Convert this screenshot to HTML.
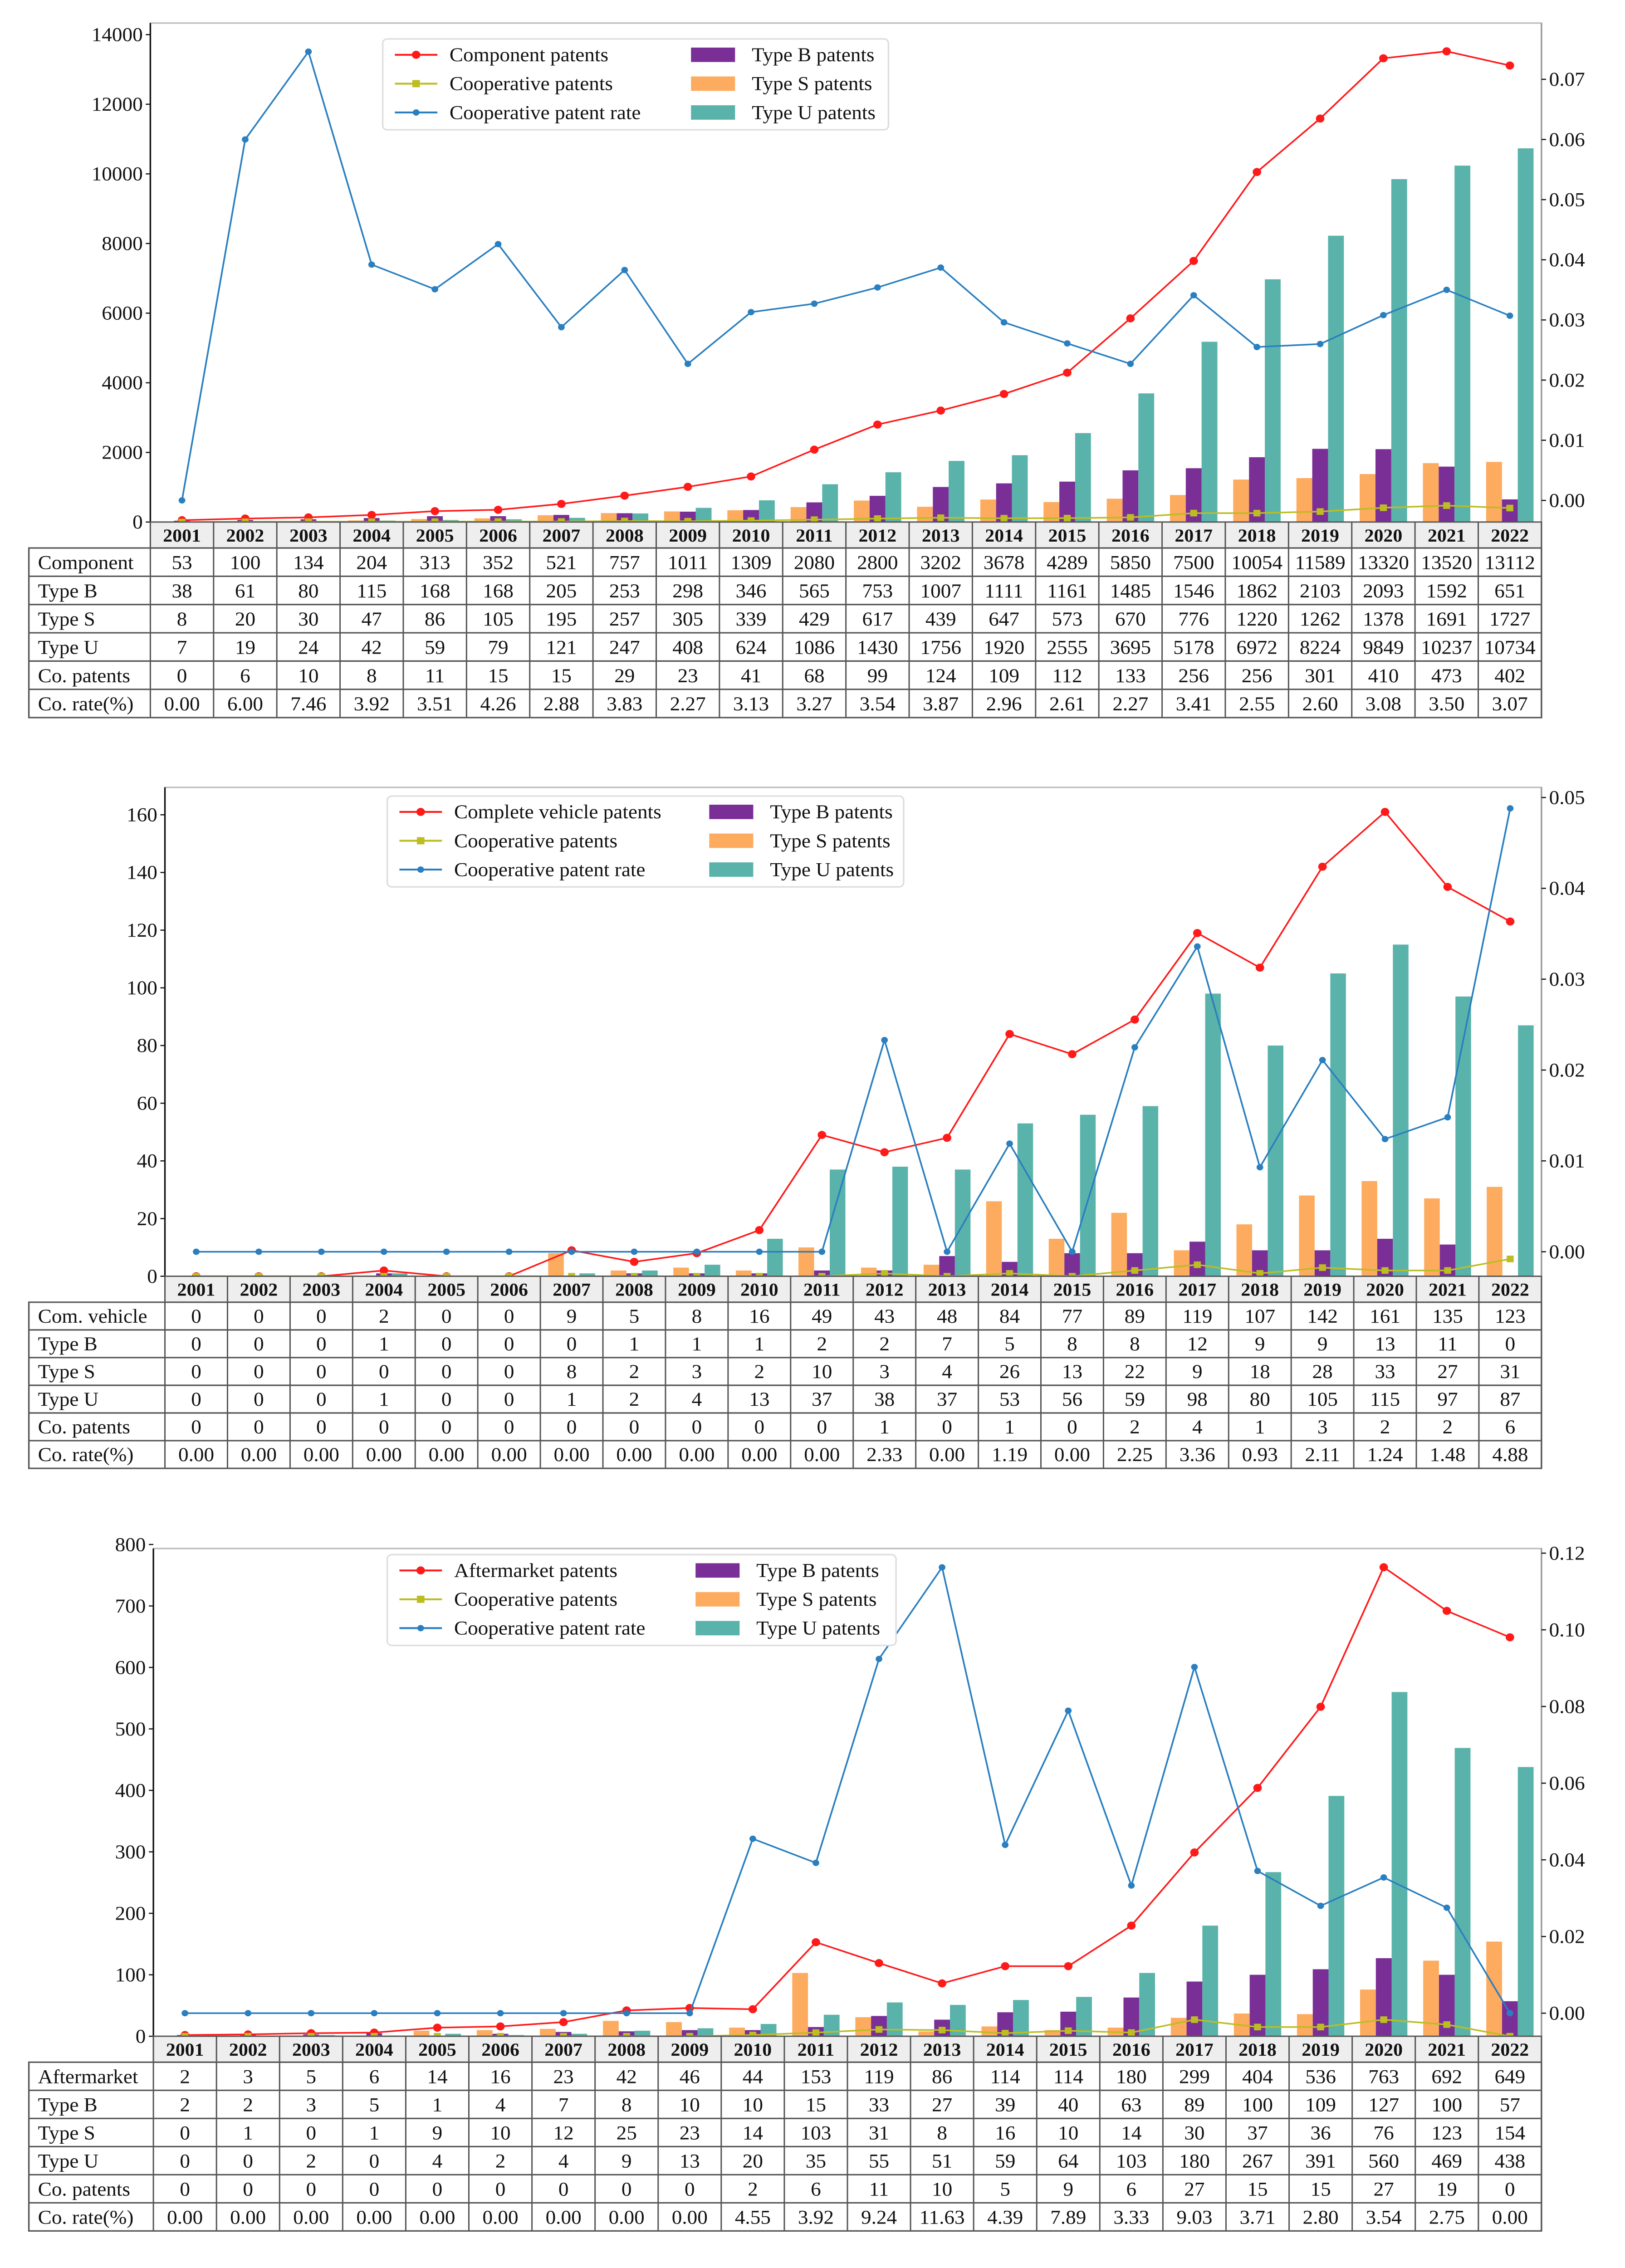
<!DOCTYPE html>
<html><head><meta charset="utf-8"><style>
html,body{margin:0;padding:0;background:#fff;width:100%;height:100%;overflow:hidden}
svg{display:block;position:absolute;left:0;top:0;width:100vw;height:100vh}
text{font-family:"Liberation Serif",serif;fill:#111}
</style></head><body>
<svg id="fig" xmlns="http://www.w3.org/2000/svg" viewBox="0 0 1070 1572.7" preserveAspectRatio="none"></svg>
<script>
const years = ["2001","2002","2003","2004","2005","2006","2007","2008","2009","2010","2011","2012","2013","2014","2015","2016","2017","2018","2019","2020","2021","2022"];
// Panel 1 data (component)
const p1Main = [53,100,134,204,313,352,521,757,1011,1309,2080,2800,3202,3678,4289,5850,7500,10054,11589,13320,13520,13112];
const p1B = [38,61,80,115,168,168,205,253,298,346,565,753,1007,1111,1161,1485,1546,1862,2103,2093,1592,651];
const p1S = [8,20,30,47,86,105,195,257,305,339,429,617,439,647,573,670,776,1220,1262,1378,1691,1727];
const p1U = [7,19,24,42,59,79,121,247,408,624,1086,1430,1756,1920,2555,3695,5178,6972,8224,9849,10237,10734];
const p1Co = [0,6,10,8,11,15,15,29,23,41,68,99,124,109,112,133,256,256,301,410,473,402];
const p1Rate = ["0.00","6.00","7.46","3.92","3.51","4.26","2.88","3.83","2.27","3.13","3.27","3.54","3.87","2.96","2.61","2.27","3.41","2.55","2.60","3.08","3.50","3.07"];
const p1LeftTicks = [0,2000,4000,6000,8000,10000,12000,14000];
const p1RightTicks = ["0.00","0.01","0.02","0.03","0.04","0.05","0.06","0.07"];
// Panel 2 data (complete vehicle)
const p2Main = [0,0,0,2,0,0,9,5,8,16,49,43,48,84,77,89,119,107,142,161,135,123];
const p2B = [0,0,0,1,0,0,0,1,1,1,2,2,7,5,8,8,12,9,9,13,11,0];
const p2S = [0,0,0,0,0,0,8,2,3,2,10,3,4,26,13,22,9,18,28,33,27,31];
const p2U = [0,0,0,1,0,0,1,2,4,13,37,38,37,53,56,59,98,80,105,115,97,87];
const p2Co = [0,0,0,0,0,0,0,0,0,0,0,1,0,1,0,2,4,1,3,2,2,6];
const p2Rate = ["0.00","0.00","0.00","0.00","0.00","0.00","0.00","0.00","0.00","0.00","0.00","2.33","0.00","1.19","0.00","2.25","3.36","0.93","2.11","1.24","1.48","4.88"];
const p2LeftTicks = [0,20,40,60,80,100,120,140,160];
const p2RightTicks = ["0.00","0.01","0.02","0.03","0.04","0.05"];
// Panel 3 data (aftermarket)
const p3Main = [2,3,5,6,14,16,23,42,46,44,153,119,86,114,114,180,299,404,536,763,692,649];
const p3B = [2,2,3,5,1,4,7,8,10,10,15,33,27,39,40,63,89,100,109,127,100,57];
const p3S = [0,1,0,1,9,10,12,25,23,14,103,31,8,16,10,14,30,37,36,76,123,154];
const p3U = [0,0,2,0,4,2,4,9,13,20,35,55,51,59,64,103,180,267,391,560,469,438];
const p3Co = [0,0,0,0,0,0,0,0,0,2,6,11,10,5,9,6,27,15,15,27,19,0];
const p3Rate = ["0.00","0.00","0.00","0.00","0.00","0.00","0.00","0.00","0.00","4.55","3.92","9.24","11.63","4.39","7.89","3.33","9.03","3.71","2.80","3.54","2.75","0.00"];
const p3LeftTicks = [0,100,200,300,400,500,600,700,800];
const p3RightTicks = ["0.00","0.02","0.04","0.06","0.08","0.10","0.12"];

const NS="http://www.w3.org/2000/svg";
const svg=document.getElementById('fig');
function mk(tag,attrs,parent){const e=document.createElementNS(NS,tag);for(const k in attrs)e.setAttribute(k,attrs[k]);(parent||svg).appendChild(e);return e;}
const C={red:"#ff1a1a",yel:"#bcbd22",blue:"#2a7fc0",pur:"#7a2f96",org:"#fdab5e",teal:"#5ab3aa"};

function panel(cfg){
  const g=mk('g',{});
  
  
  const L=cfg.left,R=1015,col=(R-L)/years.length;
  const xc=i=>L+col*(i+0.5);
  const yL=v=>cfg.zero-(v/cfg.lmax)*(cfg.zero-cfg.ltop);
  const yR=v=>cfg.rzero-(v/cfg.rmax)*(cfg.rzero-cfg.rtop);
  const fr=mk('rect',{x:L,y:cfg.top,width:R-L,height:cfg.zero-cfg.top,fill:'none',stroke:'#bbb','stroke-width':1},g);
  
  mk('line',{x1:L,y1:cfg.top,x2:L,y2:cfg.zero,stroke:'#111','stroke-width':1},g);
  mk('line',{x1:R,y1:cfg.top,x2:R,y2:cfg.zero,stroke:'#999','stroke-width':1},g);
  cfg.lticks.forEach(v=>{const y=yL(v);
    mk('line',{x1:L-3,y1:y,x2:L,y2:y,stroke:'#111','stroke-width':0.8},g);
    const t=mk('text',{x:L-5,y:y+4.5,'text-anchor':'end','font-size':13.5},g);t.textContent=v;
    });
  cfg.rticks.forEach(s=>{const y=yR(parseFloat(s));
    mk('line',{x1:R,y1:y,x2:R+3,y2:y,stroke:'#111','stroke-width':0.8},g);
    const t=mk('text',{x:R+5,y:y+4.5,'font-size':13.5},g);t.textContent=s;
    });
  const bw=col*0.25;
  [[cfg.S,C.org,-1.5,'bar-type-s'],[cfg.B,C.pur,-0.5,'bar-type-b'],[cfg.U,C.teal,0.5,'bar-type-u']].forEach(([arr,colr,off,nm])=>{
    arr.forEach((v,i)=>{const y=yL(v);const r=mk('rect',{x:xc(i)+off*bw,y:y,width:bw,height:cfg.zero-y,fill:colr},g);
      });});
  function line(vals,fy,colr,marker,nm){
    const pts=vals.map((v,i)=>[xc(i),fy(v)]);
    const p=mk('polyline',{points:pts.map(p=>p.join(',')).join(' '),fill:'none',stroke:colr,'stroke-width':1.1},g);
    
    pts.forEach(([x,y])=>{let m;
      if(marker==='sq')m=mk('rect',{x:x-2.3,y:y-2.3,width:4.6,height:4.6,fill:colr},g);
      else m=mk('circle',{cx:x,cy:y,r:marker==='big'?2.8:2.2,fill:colr},g);
      });
  }
  line(cfg.main,yL,C.red,'big','main-patents-line');
  line(cfg.Co,yL,C.yel,'sq','cooperative-patents-line');
  line(cfg.Rate.map(s=>parseFloat(s)/100),yR,C.blue,'small','cooperative-rate-line');
  const lx=cfg.lg[0],ly=cfg.lg[1],lw=cfg.lg[2];
  const lb=mk('rect',{x:lx,y:ly,width:lw,height:63,rx:3,fill:'#fff',stroke:'#ddd','stroke-width':1},g);
  
  const names=[cfg.mainName,'Cooperative patents','Cooperative patent rate'];
  [[C.red,'big'],[C.yel,'sq'],[C.blue,'small']].forEach(([colr,mkk],k)=>{const y=ly+11+k*20;
    mk('line',{x1:lx+8,y1:y,x2:lx+36,y2:y,stroke:colr,'stroke-width':1.3},g);
    if(mkk==='sq')mk('rect',{x:lx+19.5,y:y-2.5,width:5,height:5,fill:colr},g);else mk('circle',{cx:lx+22,cy:y,r:mkk==='big'?2.8:2.2,fill:colr},g);
    const t=mk('text',{x:lx+44,y:y+4.5,'font-size':13.5},g);t.textContent=names[k];
    });
  [[C.pur,'Type B patents'],[C.org,'Type S patents'],[C.teal,'Type U patents']].forEach(([colr,nm],k)=>{const y=ly+11+k*20;
    mk('rect',{x:lx+cfg.lg[3],y:y-5,width:29,height:10,fill:colr},g);
    const t=mk('text',{x:lx+cfg.lg[3]+40,y:y+4.5,'font-size':13.5},g);t.textContent=nm;
    });
  const tb=mk('g',{},g);
  const hT=cfg.zero,hB=cfg.zero+cfg.hh,rh=cfg.rh,TL=19;
  mk('rect',{x:L,y:hT,width:R-L,height:hB-hT,fill:'#eeeeee',stroke:'#555','stroke-width':0.9},tb);
  years.forEach((yr,i)=>{const t=mk('text',{x:xc(i),y:hB-4.5,'text-anchor':'middle','font-size':12.5,'font-weight':'bold'},tb);t.textContent=yr;
    });
  const rows=[[cfg.rowName,cfg.main],['Type B',cfg.B],['Type S',cfg.S],['Type U',cfg.U],['Co. patents',cfg.Co],['Co. rate(%)',cfg.Rate]];
  const bot=hB+rh*rows.length;
  mk('rect',{x:TL,y:hB,width:R-TL,height:bot-hB,fill:'none',stroke:'#555','stroke-width':1},tb);
  rows.forEach(([nm,arr],r)=>{const y0=hB+rh*r;
    if(r>0)mk('line',{x1:TL,y1:y0,x2:R,y2:y0,stroke:'#555','stroke-width':1},tb);
    const t=mk('text',{x:TL+6,y:y0+rh-5,'font-size':13.5},tb);t.textContent=nm;
    
    arr.forEach((v,i)=>{const c=mk('text',{x:xc(i),y:y0+rh-5,'text-anchor':'middle','font-size':13.5},tb);c.textContent=v;
      });});
  for(let i=0;i<=years.length;i++){const x=L+col*i;mk('line',{x1:x,y1:hT,x2:x,y2:bot,stroke:'#555','stroke-width':0.9},tb);}
}
panel({name:'component-panel',left:99,top:16,zero:362,ltop:24,lmax:14000,rzero:347,rtop:55,rmax:0.07,
  lticks:p1LeftTicks,rticks:p1RightTicks,main:p1Main,B:p1B,S:p1S,U:p1U,Co:p1Co,Rate:p1Rate,
  mainName:'Component patents',rowName:'Component',lg:[252,27,333,203],hh:18,rh:19.6});
panel({name:'complete-vehicle-panel',left:108.6,top:546,zero:885,ltop:565,lmax:160,rzero:868,rtop:553,rmax:0.05,
  lticks:p2LeftTicks,rticks:p2RightTicks,main:p2Main,B:p2B,S:p2S,U:p2U,Co:p2Co,Rate:p2Rate,
  mainName:'Complete vehicle patents',rowName:'Com. vehicle',lg:[255,552,340,212],hh:18,rh:19.2});
panel({name:'aftermarket-panel',left:101,top:1073.8,zero:1412,ltop:1071,lmax:800,rzero:1396,rtop:1077,rmax:0.12,
  lticks:p3LeftTicks,rticks:p3RightTicks,main:p3Main,B:p3B,S:p3S,U:p3U,Co:p3Co,Rate:p3Rate,
  mainName:'Aftermarket patents',rowName:'Aftermarket',lg:[255,1078,335,203],hh:18,rh:19.5});
</script>
</body></html>
